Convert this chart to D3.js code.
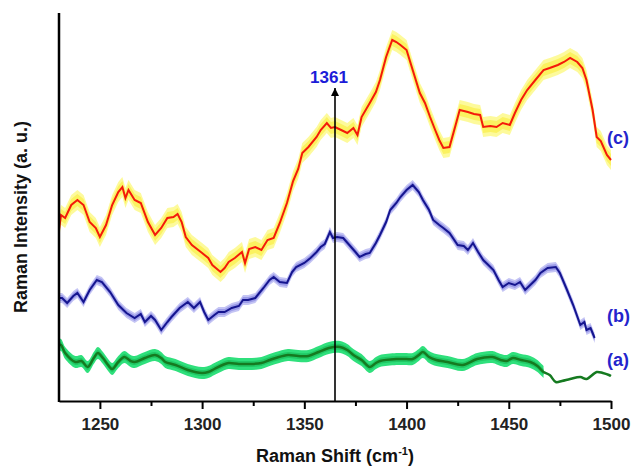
<!DOCTYPE html>
<html>
<head>
<meta charset="utf-8">
<script src="https://cdn.jsdelivr.net/npm/d3@7"></script>
<style>
  body { margin: 0; background: #fff; }
  text { font-family: "Liberation Sans", Arial, sans-serif; font-weight: bold; }
</style>
</head>
<body>
<script>
// spectra: [Raman shift, intensity (a.u.)]
const seriesC = [[1230,171],[1231,186],[1233,183],[1236,196],[1239,201],[1242,196],[1245,179],[1248,173],[1250,164],[1253,176],[1256,196],[1259,209],[1261,214],[1262.5,203],[1264,211],[1267,201],[1270,198],[1273.5,179],[1277,166],[1280,173],[1283,183],[1286,184],[1288,187],[1290,179],[1292,164],[1295,156],[1300,148],[1303,143],[1305,136],[1309,129],[1311,133],[1313,139],[1316,143],[1319.5,149],[1321,138],[1323,152],[1326,154],[1329,151],[1332,161],[1335,163],[1338,178],[1341.5,198],[1344.5,220],[1347,232],[1349,248],[1352,254],[1356,264],[1358,271],[1361,278],[1363,273],[1365,274],[1368,271],[1371,268],[1374,273],[1376,266],[1378,284],[1382,298],[1385,309],[1387,321],[1390,344],[1393,361],[1395,359],[1397,356],[1400,351],[1403,331],[1406.5,308],[1409,298],[1411.5,284],[1414,271],[1416,261],[1418,253],[1421,254],[1424,276],[1426,291],[1430,289],[1433,287],[1436,286],[1437.5,274],[1441,275],[1444,274],[1447,278],[1450.5,276],[1453,288],[1456,301],[1459,311],[1463,321],[1467,331],[1470,333],[1474,336],[1477,339],[1480,343],[1483.5,339],[1486,333],[1488,321],[1490,301],[1491,291],[1493,264],[1495,260],[1498,246],[1500,241]];
const seriesB = [[1230,103],[1231.5,103],[1234,98],[1237,105],[1239,108],[1242,99],[1245,111],[1248.5,121],[1251,119],[1255,109],[1259,96],[1263,88],[1267,83],[1270,87],[1272,79],[1275,85],[1277,81],[1280,71],[1283,79],[1285,84],[1289,93],[1293,99],[1296,93],[1299,99],[1301,89],[1303,81],[1306,86],[1308,89],[1311,89],[1314.5,93],[1318,95],[1320,101],[1322.5,101],[1326,103],[1330,113],[1333,121],[1335,124],[1338,119],[1341.5,118],[1344,129],[1346,134],[1350,138],[1353,143],[1356,149],[1358,154],[1360,157],[1362.5,169],[1364,163],[1366,164],[1369,163],[1372,156],[1375,149],[1377,144],[1380,147],[1382,148],[1385,158],[1387,166],[1390,179],[1392,191],[1395,198],[1397,204],[1400,211],[1403,216],[1406,209],[1408,201],[1411,191],[1413,181],[1416,176],[1418,173],[1421,168],[1425,156],[1428,155],[1430,151],[1432.5,158],[1435,149],[1437.5,141],[1440,136],[1442.5,131],[1445,121],[1447,114],[1450,118],[1453,116],[1455.5,119],[1458,111],[1460.5,116],[1463,121],[1465.5,128],[1469,133],[1473,134],[1475,128],[1478.5,111],[1481.5,96],[1485,76],[1487,79],[1488,71],[1490,73],[1491,68],[1492,63]];
const seriesA = [[1230,56],[1231,56],[1233,48],[1238,39],[1241,40],[1244,34],[1247,43],[1249,48],[1251.5,43],[1254,36],[1256,32],[1259,39],[1262,44],[1265,40],[1267,39],[1272,43],[1277,46],[1280,43],[1282,39],[1287,36],[1293,31],[1300,28],[1303,29],[1306,32],[1310,36],[1313,38],[1318,37],[1322.5,37],[1329,38],[1333,41],[1336,43],[1342,46],[1347,45],[1352,45],[1357,49],[1362,53],[1367.5,54],[1371,51],[1374,46],[1378,41],[1382,34],[1385,38],[1387,40],[1395,42],[1400,42],[1403,42],[1406,46],[1408,49],[1411,44],[1414.5,41],[1420,39],[1427.5,36],[1434.5,42],[1442,44],[1446,41],[1449,40],[1452,43],[1456,41],[1460.5,39],[1464,35],[1467,29],[1470,26],[1473,19],[1476,20],[1480,22],[1485,24],[1488,22],[1493,29],[1496,28],[1499,26],[1500,25]];

// spread of the shaded band around each spectrum
const spreadC = 10;
const spreadB = 5;
const spreadA = 6;
const bandEndA = 1467;

const xTicks = [1250, 1300, 1350, 1400, 1450, 1500];
const xMinorTicks = [1275, 1325, 1375, 1425, 1475];
const peakShift = 1365;
const peakLabel = "1361";
const seriesLabels = ["(c)", "(b)", "(a)"];
const labelLevels = [257, 79, 35];

const w = 633, h = 471;
const svg = d3.select("body").append("svg").attr("width", w).attr("height", h);

const x = d3.scaleLinear().domain([1230, 1500]).range([59, 611]);
const y = d3.scaleLinear().domain([0, 388]).range([401, 13]);

const band = (s) => d3.area().x(d => x(d[0])).y0(d => y(d[1] - s)).y1(d => y(d[1] + s));
const line = d3.line().x(d => x(d[0])).y(d => y(d[1]));
const smooth = d3.line().x(d => x(d[0])).y(d => y(d[1])).curve(d3.curveCatmullRom);

//bands, a soft outer one and a denser inner one
svg.append("path").datum(seriesC).attr("d", band(spreadC)).attr("fill", "#fdf98a").attr("opacity", 0.85);
svg.append("path").datum(seriesC).attr("d", band(spreadC * 0.6)).attr("fill", "#fbf260");
svg.append("path").datum(seriesB).attr("d", band(spreadB)).attr("fill", "#c4c4f4");
svg.append("path").datum(seriesB).attr("d", band(spreadB * 0.6)).attr("fill", "#9c9ce8");
svg.append("path").datum(seriesA.filter(d => d[0] <= bandEndA)).attr("d", band(spreadA).curve(d3.curveCatmullRom)).attr("fill", "#2fe07c");
svg.append("path").datum(seriesA.filter(d => d[0] <= bandEndA)).attr("d", band(spreadA * 0.5).curve(d3.curveCatmullRom)).attr("fill", "#20c864");

//lines
svg.append("path").datum(seriesC).attr("d", line).attr("fill", "none").attr("stroke", "#f41a0a").attr("stroke-width", 2);
svg.append("path").datum(seriesB).attr("d", line).attr("fill", "none").attr("stroke", "#15158f").attr("stroke-width", 2);
svg.append("path").datum(seriesA).attr("d", smooth).attr("fill", "none").attr("stroke", "#157a20").attr("stroke-width", 2.5);

//x-axis
const axisX = d3.axisBottom(x).tickValues(xTicks).tickFormat(d3.format("d")).tickSize(8).tickSizeOuter(0);
const gx = svg.append("g").attr("transform", `translate(0, ${y(0)})`).call(axisX);
gx.select(".domain").attr("stroke-width", 2);
gx.selectAll(".tick line").attr("stroke-width", 2);
gx.selectAll(".tick text").attr("dy", "1.05em").style("font-size", "17px").attr("fill", "#222");
svg.append("g").attr("transform", `translate(0, ${y(0)})`)
  .call(d3.axisBottom(x).tickValues(xMinorTicks).tickSize(5).tickFormat(""))
  .call(g => g.select(".domain").remove())
  .selectAll(".tick line").attr("stroke-width", 2);

//y-axis line
svg.append("line").attr("x1", x(1230)).attr("x2", x(1230)).attr("y1", y(388)).attr("y2", y(0) + 1).attr("stroke", "#000").attr("stroke-width", 2.5);

//axis titles
const xt = svg.append("text").attr("x", 335).attr("y", 462).attr("text-anchor", "middle").style("font-size", "18px").attr("fill", "#111");
xt.append("tspan").text("Raman Shift (cm");
xt.append("tspan").attr("dy", -7).style("font-size", "11px").text("-1");
xt.append("tspan").attr("dy", 7).text(")");
svg.append("text").attr("transform", "translate(27, 217) rotate(-90)").attr("text-anchor", "middle").style("font-size", "18px").attr("fill", "#111").text("Raman Intensity (a. u.)");

//peak arrow
svg.append("defs").append("marker").attr("id", "head").attr("viewBox", "0 0 10 10").attr("refX", 10).attr("refY", 5)
  .attr("markerWidth", 8).attr("markerHeight", 8).attr("markerUnits", "userSpaceOnUse").attr("orient", "auto")
  .append("path").attr("d", "M0,0 L10,5 L0,10 Z").attr("fill", "#000");
svg.append("line").attr("x1", x(peakShift)).attr("x2", x(peakShift)).attr("y1", y(0)).attr("y2", 88)
  .attr("stroke", "#000").attr("stroke-width", 1.6).attr("marker-end", "url(#head)");
svg.append("text").attr("x", x(peakShift) - 6).attr("y", 83).attr("text-anchor", "middle").style("font-size", "17px").attr("fill", "#1c1cd8").text(peakLabel);

//series labels
svg.selectAll(".lab").data(seriesLabels).enter().append("text").attr("class", "lab")
  .attr("x", 607).attr("y", (d, i) => y(labelLevels[i])).style("font-size", "18px").attr("fill", "#2424cc").text(d => d);
</script>
</body>
</html>
